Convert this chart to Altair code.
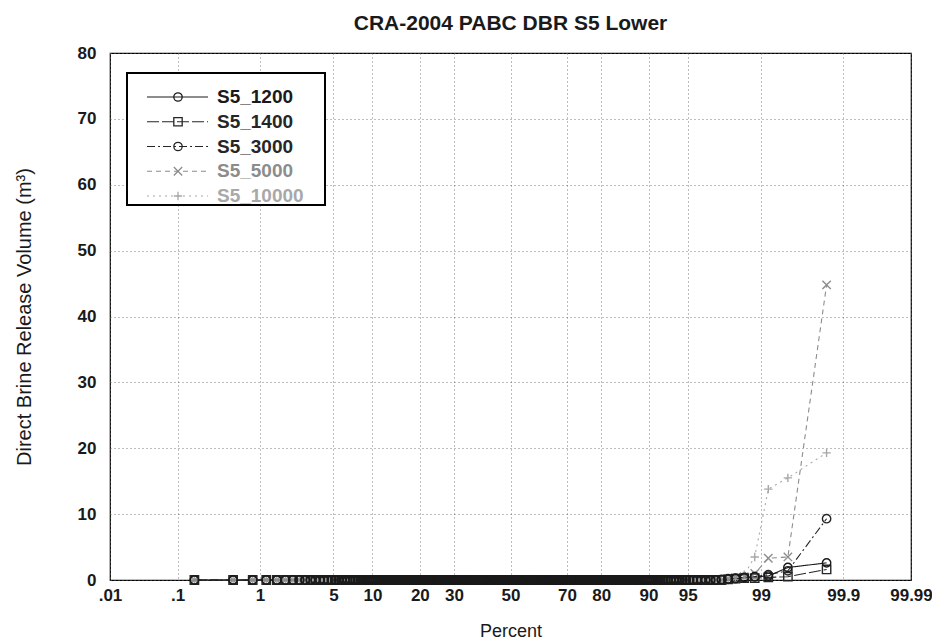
import altair as alt
import pandas as pd
from statistics import NormalDist

# ---------------- data ----------------
series = ["S5_1200", "S5_1400", "S5_3000", "S5_5000", "S5_10000"]
n_vectors = 300  # sorted realizations per curve

# nonzero upper tails (ascending, last value = largest); all other values are 0
tail_1200 = [0.1, 0.2, 0.3, 0.4, 0.5, 0.6, 1.9, 2.6]
tail_1400 = [0.1, 0.2, 0.3, 0.3, 0.4, 0.5, 1.6]
tail_3000 = [0.1, 0.2, 0.3, 0.5, 0.8, 1.4, 9.3]
tail_5000 = [0.2, 0.3, 0.5, 1.0, 3.3, 3.5, 44.8]
tail_10000 = [0.2, 0.4, 0.8, 3.5, 13.8, 15.5, 19.3]
tails = [tail_1200, tail_1400, tail_3000, tail_5000, tail_10000]

tick_percent = [0.01, 0.1, 1, 5, 10, 20, 30, 50, 70, 80, 90, 95, 99, 99.9, 99.99]
tick_labels = [".01", ".1", "1", "5", "10", "20", "30", "50", "70", "80", "90", "95", "99", "99.9", "99.99"]
y_ticks = [0, 10, 20, 30, 40, 50, 60, 70, 80]

# ---------------- styling ----------------
colors = ["#1a1a1a", "#262626", "#262626", "#8c8c8c", "#a8a8a8"]
dashes = [[1, 0], [12, 3], [8, 3, 2, 3], [5, 4], [2, 4]]
shapes = ["circle", "square", "circle", "M-1,-1L1,1M-1,1L1,-1", "M-1,0L1,0M0,-1L0,1"]
sizes = [70, 70, 30, 60, 80]
FONT = "Liberation Sans"

rows = []
# light series first so the dark markers are drawn on top
for s, tail in reversed(list(zip(series, tails))):
    vals = [0.0] * (n_vectors - len(tail)) + list(tail)
    for i, v in enumerate(vals, start=1):
        rows.append({"series": s, "percent": (i - 0.5) / n_vectors * 100, "value": v})
df = pd.DataFrame(rows)

nd = NormalDist()
tick_z = [round(nd.inv_cdf(p / 100), 4) for p in tick_percent]
zmin, zmax = tick_z[0], tick_z[-1]
label_expr = (
    "[" + ",".join("'%s'" % l for l in tick_labels) + "]"
    "[indexof([" + ",".join(str(int(round(z * 1000))) for z in tick_z) + "], round(datum.value*1000))]"
)

color_scale = alt.Scale(domain=series, range=colors)
dash_scale = alt.Scale(domain=series, range=dashes)
shape_scale = alt.Scale(domain=series, range=shapes)
size_scale = alt.Scale(domain=series, range=sizes)

x_enc = alt.X(
    "z:Q",
    scale=alt.Scale(domain=[zmin, zmax], nice=False, zero=False),
    axis=alt.Axis(values=tick_z, labelExpr=label_expr, labelFlush=False, title="Percent", titleY=42),
)
y_enc = alt.Y(
    "value:Q",
    scale=alt.Scale(domain=[0, 80], nice=False),
    axis=alt.Axis(values=y_ticks, title="Direct Brine Release Volume (m³)", titleX=-76),
)

base = alt.Chart(df).transform_calculate(z="quantileNormal(datum.percent/100)")

lines = base.mark_line(strokeWidth=1.1).encode(
    x=x_enc,
    y=y_enc,
    color=alt.Color("series:N", scale=color_scale, legend=None),
    strokeDash=alt.StrokeDash("series:N", scale=dash_scale, legend=None),
    detail="series:N",
    order="percent:Q",
)
points = base.mark_point(filled=False, strokeWidth=1.4, opacity=1).encode(
    x="z:Q",
    y="value:Q",
    color=alt.Color("series:N", scale=color_scale, legend=None),
    shape=alt.Shape("series:N", scale=shape_scale, legend=None),
    size=alt.Size("series:N", scale=size_scale, legend=None),
)
main = alt.layer(lines, points)

# ---------------- legend (drawn inside plot) ----------------
leg_df = pd.DataFrame({"series": series})
leg_y = alt.Y("series:N", scale=alt.Scale(type="point", domain=series, range=[44, 143], padding=0), axis=None)

box = alt.Chart(pd.DataFrame({"k": [0]})).mark_rect(
    fill="white", stroke="black", strokeWidth=2
).encode(x=alt.value(17), x2=alt.value(215), y=alt.value(20), y2=alt.value(152))
leg_lines = alt.Chart(leg_df).mark_rule(strokeWidth=1.1).encode(
    x=alt.value(37), x2=alt.value(98), y=leg_y,
    color=alt.Color("series:N", scale=color_scale, legend=None),
    strokeDash=alt.StrokeDash("series:N", scale=dash_scale, legend=None),
)
leg_pts = alt.Chart(leg_df).mark_point(filled=False, strokeWidth=1.3, opacity=1).encode(
    x=alt.value(68), y=leg_y,
    color=alt.Color("series:N", scale=color_scale, legend=None),
    shape=alt.Shape("series:N", scale=shape_scale, legend=None),
    size=alt.Size("series:N", scale=size_scale, legend=None),
)
leg_text = alt.Chart(leg_df).mark_text(
    align="left", baseline="middle", fontSize=19, fontWeight="bold", font=FONT
).encode(
    x=alt.value(107), y=leg_y, text="series:N",
    color=alt.Color("series:N", scale=color_scale, legend=None),
)
legend = alt.layer(box, leg_lines, leg_pts, leg_text)

chart = (
    alt.layer(main, legend)
    .resolve_scale(y="independent")
    .properties(
        width=801,
        height=527,
        autosize=alt.AutoSizeParams(type="none"),
        padding={"left": 102, "top": 45, "right": 21, "bottom": 62},
        title=alt.TitleParams(
            "CRA-2004 PABC DBR S5 Lower", fontSize=21, fontWeight="bold", font=FONT,
            color="#1a1a1a", offset=10, anchor="middle",
        ),
    )
    .configure_view(stroke="black", strokeWidth=1.2)
    .configure_axis(
        grid=True, gridDash=[1, 3], gridColor="#666", gridOpacity=0.85,
        domain=False, ticks=False,
        labelFont=FONT, labelFontSize=17, labelFontWeight="bold", labelColor="#1a1a1a",
        titleFont=FONT, titleFontWeight="normal", titleColor="#1a1a1a",
    )
    .configure_axisX(labelPadding=7, titleFontSize=18)
    .configure_axisY(labelPadding=14, titleFontSize=20)
)

chart.save("out.html", embed_options={"renderer": "svg", "actions": False})
